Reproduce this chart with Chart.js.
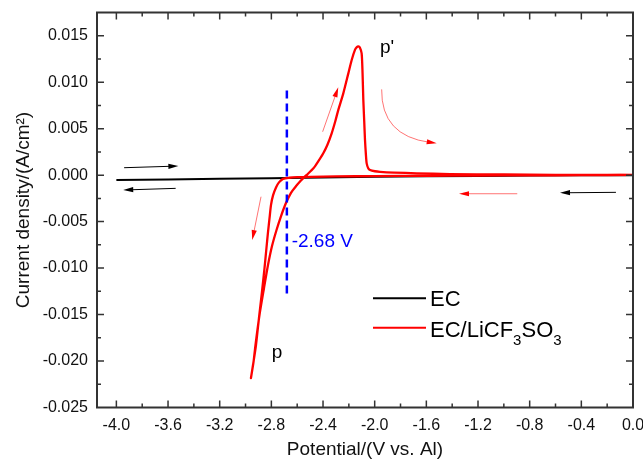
<!DOCTYPE html>
<html>
<head>
<meta charset="utf-8">
<script src="https://cdn.jsdelivr.net/npm/chart.js@4.4.1/dist/chart.umd.min.js"></script>
<style>
html, body { margin: 0; padding: 0; background: #fff; }
</style>
</head>
<body>
<canvas id="cvChart" width="643" height="461"></canvas>
<script>
// Valores
const xTicks = [-4.0, -3.6, -3.2, -2.8, -2.4, -2.0, -1.6, -1.2, -0.8, -0.4, 0.0];
const yTicks = [-0.025, -0.020, -0.015, -0.010, -0.005, 0.000, 0.005, 0.010, 0.015];

// EC (línea negra)
const ecPotential = [-4.0, -3.6, -3.2, -2.8, -2.4, -2.0, -1.6, -1.2, -0.8, -0.4, 0.0];
const ecCurrent = [-0.00052, -0.00046, -0.0004, -0.00033, -0.00025, -0.00018, -0.00012, -0.00008, -0.00005, -0.00002, 0.0];

// EC/LiCF3SO3 (barrido completo, línea roja)
const saltPotential = [
    0.0, -0.4, -0.8, -1.2, -1.6, -2.0, -2.3, -2.5, -2.6, -2.66, -2.71, -2.741, -2.764, -2.787, -2.803,
    -2.814, -2.826, -2.838, -2.853, -2.873, -2.896, -2.919, -2.942, -2.958,
    -2.938, -2.923, -2.892, -2.857, -2.826, -2.795, -2.760, -2.725, -2.687, -2.648, -2.610, -2.571,
    -2.528, -2.474, -2.436, -2.398, -2.365, -2.333, -2.305, -2.282, -2.243, -2.204, -2.178, -2.152,
    -2.138, -2.127, -2.115, -2.101, -2.094, -2.088, -2.081, -2.075, -2.068, -2.062, -2.050, -2.036,
    -1.998, -1.959, -1.85, -1.675, -1.417, -1.0, -0.6, -0.2, 0.0
];
const saltCurrent = [
    0.00002, 0.0, -0.00002, -0.00004, -0.00007, -0.0001, -0.00014, -0.00018, -0.00022, -0.00028, -0.0004, -0.00078, -0.00132, -0.00218, -0.00322,
    -0.00461, -0.00612, -0.00784, -0.0100, -0.01258, -0.01538, -0.01828, -0.02043, -0.02183,
    -0.0201, -0.01828, -0.01506, -0.01215, -0.00967, -0.00763, -0.0059, -0.0044, -0.0030, -0.0019, -0.0012, -0.00058,
    0.0, 0.00073, 0.0015, 0.00235, 0.0033, 0.0045, 0.0058, 0.0070, 0.0088, 0.01095, 0.01239, 0.0135,
    0.01378, 0.01385, 0.01374, 0.0131, 0.0110, 0.0081, 0.0058, 0.00378, 0.0022, 0.00127, 0.00075, 0.00055,
    0.00042, 0.00036, 0.00028, 0.0002, 0.00012, 0.00007, 0.00004, 0.00002, 0.00001
];

// Línea de potencial de inicio
const onsetPotential = -2.68;
const onsetCurrent = [0.0091, -0.0132];

// Flechas (x1, y1, x2, y2) en unidades de datos
const blackArrows = [[-3.94, 0.0008, -3.52, 0.00098], [-3.541, -0.00142, -3.947, -0.0016], [-0.132, -0.00185, -0.565, -0.0019]];
const redArrows = [[-0.896, -0.002, -1.347, -0.002], [-2.403, 0.00467, -2.282, 0.00945], [-2.88, -0.00232, -2.948, -0.00698]];
const curvedArrow = [-1.946, 0.00923, -1.951, 0.00424, -1.52, 0.00342];

// Etiquetas
const peakLabels = [{ text: "p'", x: -1.959, y: 0.0131 }, { text: 'p', x: -2.797, y: -0.01965 }];
const onsetLabel = { text: '-2.68 V', x: -2.643, y: -0.00774 };

const FONT = "'Liberation Sans', Arial, sans-serif";
const AXIS = '#333333';

function toPoints(xs, ys) {
    return xs.map((v, i) => ({ x: v, y: ys[i] }));
}

function drawArrow(ctx, x1, y1, x2, y2, lineColor, headColor) {
    const ang = Math.atan2(y2 - y1, x2 - x1);
    const hl = 10, hw = 2.6;
    ctx.strokeStyle = lineColor;
    ctx.lineWidth = 1;
    ctx.beginPath();
    ctx.moveTo(x1, y1);
    ctx.lineTo(x2 - Math.cos(ang) * hl * 0.8, y2 - Math.sin(ang) * hl * 0.8);
    ctx.stroke();
    ctx.fillStyle = headColor;
    ctx.beginPath();
    ctx.moveTo(x2, y2);
    ctx.lineTo(x2 - Math.cos(ang) * hl - Math.sin(ang) * hw, y2 - Math.sin(ang) * hl + Math.cos(ang) * hw);
    ctx.lineTo(x2 - Math.cos(ang) * hl + Math.sin(ang) * hw, y2 - Math.sin(ang) * hl - Math.cos(ang) * hw);
    ctx.closePath();
    ctx.fill();
}

// Marco, marcas interiores, flechas, etiquetas y leyenda
const decorPlugin = {
    id: 'decor',
    afterDatasetsDraw(chart) {
        const { ctx, chartArea: a, scales: { x, y } } = chart;
        ctx.save();

        ctx.strokeStyle = AXIS;
        ctx.lineWidth = 2;
        ctx.strokeRect(a.left, a.top, a.right - a.left, a.bottom - a.top);

        const xMinor = [];
        for (let i = 0; i < xTicks.length - 1; i++) xMinor.push((xTicks[i] + xTicks[i + 1]) / 2);
        const yMinor = [];
        for (let i = 0; i < yTicks.length - 1; i++) yMinor.push((yTicks[i] + yTicks[i + 1]) / 2);

        ctx.lineWidth = 1.5;
        ctx.beginPath();
        const tickX = (v, len) => {
            const px = x.getPixelForValue(v);
            if (px <= a.left + 1 || px >= a.right - 1) return;
            ctx.moveTo(px, a.bottom); ctx.lineTo(px, a.bottom - len);
            ctx.moveTo(px, a.top); ctx.lineTo(px, a.top + len);
        };
        const tickY = (v, len) => {
            const py = y.getPixelForValue(v);
            if (py <= a.top + 1 || py >= a.bottom - 1) return;
            ctx.moveTo(a.left, py); ctx.lineTo(a.left + len, py);
            ctx.moveTo(a.right, py); ctx.lineTo(a.right - len, py);
        };
        xTicks.forEach(v => tickX(v, 7));
        xMinor.forEach(v => tickX(v, 4));
        yTicks.forEach(v => tickY(v, 7));
        yMinor.forEach(v => tickY(v, 4));
        ctx.stroke();

        // Flechas
        blackArrows.forEach(p => drawArrow(ctx, x.getPixelForValue(p[0]), y.getPixelForValue(p[1]),
            x.getPixelForValue(p[2]), y.getPixelForValue(p[3]), '#000', '#000'));
        redArrows.forEach(p => drawArrow(ctx, x.getPixelForValue(p[0]), y.getPixelForValue(p[1]),
            x.getPixelForValue(p[2]), y.getPixelForValue(p[3]), 'rgba(255,0,0,0.55)', '#ff0000'));

        const c0x = x.getPixelForValue(curvedArrow[0]), c0y = y.getPixelForValue(curvedArrow[1]);
        const c1x = x.getPixelForValue(curvedArrow[2]), c1y = y.getPixelForValue(curvedArrow[3]);
        const c2x = x.getPixelForValue(curvedArrow[4]), c2y = y.getPixelForValue(curvedArrow[5]);
        ctx.strokeStyle = 'rgba(255,0,0,0.55)';
        ctx.lineWidth = 1;
        ctx.beginPath();
        ctx.moveTo(c0x, c0y);
        ctx.quadraticCurveTo(c1x, c1y, c2x - 7, c2y - 1);
        ctx.stroke();
        drawArrow(ctx, c2x - 9, c2y - 1.5, c2x, c2y, 'rgba(255,0,0,0)', '#ff0000');

        // Etiquetas de picos
        ctx.font = '19px ' + FONT;
        ctx.textAlign = 'left';
        ctx.textBaseline = 'alphabetic';
        ctx.fillStyle = '#000';
        peakLabels.forEach(l => ctx.fillText(l.text, x.getPixelForValue(l.x), y.getPixelForValue(l.y)));
        ctx.fillStyle = '#0000ff';
        ctx.fillText(onsetLabel.text, x.getPixelForValue(onsetLabel.x), y.getPixelForValue(onsetLabel.y));

        // Leyenda
        const lx = a.left + 276, ly1 = a.top + 285.8, ly2 = a.top + 315.2;
        ctx.lineWidth = 2;
        ctx.strokeStyle = '#000';
        ctx.beginPath(); ctx.moveTo(lx, ly1); ctx.lineTo(lx + 53, ly1); ctx.stroke();
        ctx.strokeStyle = '#ff0000';
        ctx.beginPath(); ctx.moveTo(lx, ly2); ctx.lineTo(lx + 53, ly2); ctx.stroke();

        ctx.fillStyle = '#000';
        ctx.font = '22px ' + FONT;
        ctx.textBaseline = 'alphabetic';
        let tx = lx + 57;
        ctx.fillText('EC', tx, ly1 + 8);
        const base = ly2 + 9.5;
        const parts = [['EC/LiCF', 0], ['3', 1], ['SO', 0], ['3', 1]];
        parts.forEach(([t, sub]) => {
            ctx.font = (sub ? '15px ' : '22px ') + FONT;
            ctx.fillText(t, tx, base + (sub ? 8 : 0));
            tx += ctx.measureText(t).width;
        });

        ctx.restore();
    }
};

const ctx = document.getElementById('cvChart').getContext('2d');
new Chart(ctx, {
    type: 'scatter',
    data: {
        datasets: [
            {
                label: 'onset',
                data: toPoints([onsetPotential, onsetPotential], onsetCurrent),
                showLine: true,
                borderColor: '#0000ff',
                borderWidth: 2.5,
                borderDash: [8, 5],
                pointRadius: 0,
                order: 0
            },
            {
                label: 'EC/LiCF3SO3',
                data: toPoints(saltPotential, saltCurrent),
                showLine: true,
                borderColor: '#ff0000',
                borderWidth: 2.3,
                tension: 0.25,
                pointRadius: 0,
                order: 1
            },
            {
                label: 'EC',
                data: toPoints(ecPotential, ecCurrent),
                showLine: true,
                borderColor: '#000000',
                borderWidth: 2,
                pointRadius: 0,
                order: 2
            }
        ]
    },
    options: {
        responsive: false,
        animation: false,
        layout: { padding: { top: 12.5, right: 10, left: 0, bottom: 0 } },
        plugins: { legend: { display: false }, tooltip: { enabled: false } },
        scales: {
            x: {
                type: 'linear',
                min: -4.15,
                max: 0,
                grid: { display: false, drawTicks: false },
                border: { display: false },
                afterBuildTicks: s => { s.ticks = xTicks.map(v => ({ value: v })); },
                afterFit: s => { s.height = 53.5; s.paddingLeft = 0; s.paddingRight = 0; },
                ticks: {
                    padding: 8,
                    color: '#111',
                    font: { family: FONT, size: 16 },
                    callback: v => Number(v).toFixed(1)
                },
                title: {
                    display: true,
                    text: 'Potential/(V vs. Al)',
                    color: '#111',
                    font: { family: FONT, size: 19 },
                    padding: { top: 0, bottom: 0 }
                }
            },
            y: {
                type: 'linear',
                min: -0.025,
                max: 0.0175,
                grid: { display: false, drawTicks: false },
                border: { display: false },
                afterBuildTicks: s => { s.ticks = yTicks.map(v => ({ value: v })); },
                afterFit: s => { s.width = 97; s.paddingTop = 0; s.paddingBottom = 0; },
                ticks: {
                    padding: 9,
                    color: '#111',
                    font: { family: FONT, size: 16 },
                    callback: v => Number(v).toFixed(3)
                },
                title: {
                    display: true,
                    text: 'Current density/(A/cm²)',
                    color: '#111',
                    font: { family: FONT, size: 19 },
                    padding: { top: 12.5, bottom: 0 }
                }
            }
        }
    },
    plugins: [decorPlugin]
});
</script>
</body>
</html>
